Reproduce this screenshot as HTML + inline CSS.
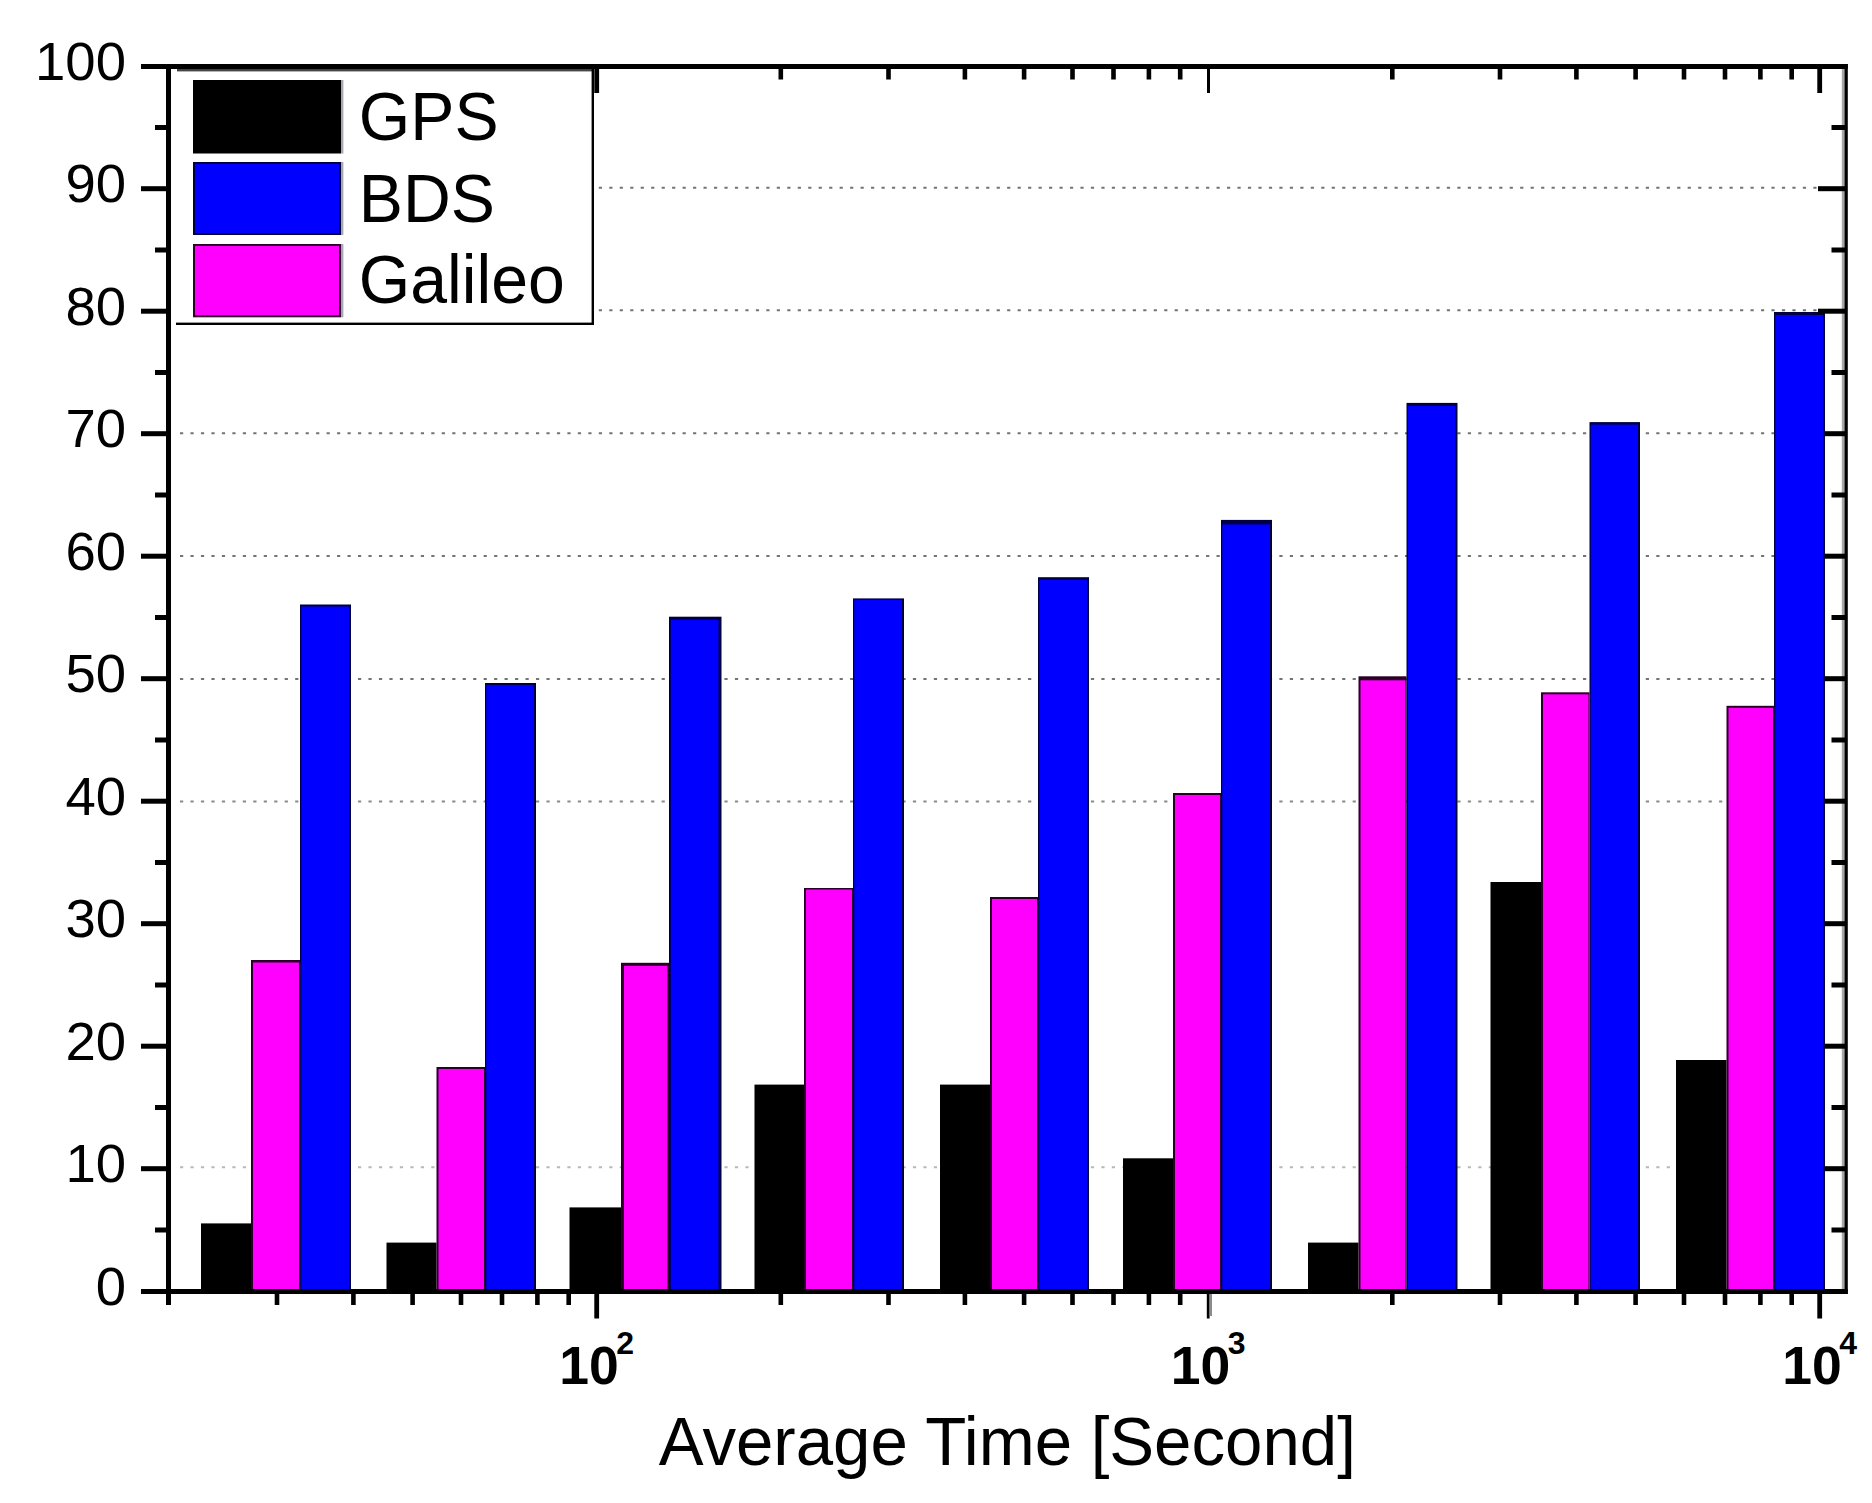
<!DOCTYPE html>
<html lang="en"><head><meta charset="utf-8"><title>Average Time Chart</title>
<style>html,body{margin:0;padding:0;background:#fff}body{width:1872px;height:1503px;overflow:hidden}svg{display:block}text{font-family:"Liberation Sans",Arial,sans-serif;fill:#000}</style></head><body>
<svg width="1872" height="1503" viewBox="0 0 1872 1503">
<rect width="1872" height="1503" fill="#fff"/>
<g stroke-width="2" stroke-dasharray="3.2 7.27" fill="none">
<line x1="180" y1="187.7" x2="1820" y2="187.7" stroke="#747474"/>
<line x1="180" y1="310.2" x2="1820" y2="310.2" stroke="#747474"/>
<line x1="180" y1="433.3" x2="1820" y2="433.3" stroke="#747474"/>
<line x1="180" y1="555.9" x2="1820" y2="555.9" stroke="#747474"/>
<line x1="180" y1="679.0" x2="1820" y2="679.0" stroke="#747474"/>
<line x1="180" y1="801.6" x2="1820" y2="801.6" stroke="#8a8a8a"/>
<line x1="180" y1="1167.2" x2="1820" y2="1167.2" stroke="#b8b8b8"/>
</g>
<rect x="201" y="1223.4" width="50" height="66.6" fill="#000"/>
<rect x="251" y="960.0" width="49" height="330.0" fill="#2a0028"/>
<rect x="253.0" y="962.5" width="46.0" height="327.5" fill="#ff00ff"/>
<rect x="300" y="604.5" width="51" height="685.5" fill="#000040"/>
<rect x="301.3" y="606.5" width="47.7" height="683.5" fill="#0000ff"/>
<rect x="386.5" y="1242.6" width="50.0" height="47.4" fill="#000"/>
<rect x="436.5" y="1067.0" width="48.5" height="223.0" fill="#2a0028"/>
<rect x="438.5" y="1069.0" width="45.5" height="221.0" fill="#ff00ff"/>
<rect x="485" y="683.0" width="51" height="607.0" fill="#000040"/>
<rect x="486.3" y="685.0" width="47.7" height="605.0" fill="#0000ff"/>
<rect x="569.5" y="1207.4" width="51.5" height="82.6" fill="#000"/>
<rect x="621" y="962.8" width="48" height="327.2" fill="#2a0028"/>
<rect x="624.0" y="965.8" width="43.5" height="324.2" fill="#ff00ff"/>
<rect x="669" y="616.7" width="52.5" height="673.3" fill="#000040"/>
<rect x="670.8" y="619.7" width="47.7" height="670.3" fill="#0000ff"/>
<rect x="754.5" y="1084.6" width="49.5" height="205.4" fill="#000"/>
<rect x="804" y="888.0" width="49" height="402.0" fill="#2a0028"/>
<rect x="806.0" y="889.5" width="46.0" height="400.5" fill="#ff00ff"/>
<rect x="853" y="598.4" width="51" height="691.6" fill="#000040"/>
<rect x="854.3" y="599.9" width="47.7" height="690.1" fill="#0000ff"/>
<rect x="940" y="1084.6" width="50" height="205.4" fill="#000"/>
<rect x="990" y="897.0" width="48" height="393.0" fill="#2a0028"/>
<rect x="992.0" y="899.0" width="45.0" height="391.0" fill="#ff00ff"/>
<rect x="1038" y="577.2" width="51" height="712.8" fill="#000040"/>
<rect x="1039.3" y="579.7" width="47.7" height="710.3" fill="#0000ff"/>
<rect x="1123" y="1158.3" width="50" height="131.7" fill="#000"/>
<rect x="1173" y="793.0" width="48" height="497.0" fill="#2a0028"/>
<rect x="1175.0" y="795.0" width="45.0" height="495.0" fill="#ff00ff"/>
<rect x="1221" y="519.9" width="51" height="770.1" fill="#000040"/>
<rect x="1222.3" y="524.4" width="47.7" height="765.6" fill="#0000ff"/>
<rect x="1308" y="1242.6" width="50.5" height="47.4" fill="#000"/>
<rect x="1358.5" y="676.3" width="48.0" height="613.7" fill="#2a0028"/>
<rect x="1360.5" y="680.3" width="45.0" height="609.7" fill="#ff00ff"/>
<rect x="1406.5" y="402.9" width="51.0" height="887.1" fill="#000040"/>
<rect x="1407.8" y="405.9" width="47.7" height="884.1" fill="#0000ff"/>
<rect x="1490.5" y="882.0" width="50.5" height="408.0" fill="#000"/>
<rect x="1541" y="692.3" width="48.5" height="597.7" fill="#2a0028"/>
<rect x="1543.0" y="694.3" width="45.5" height="595.7" fill="#ff00ff"/>
<rect x="1589.5" y="422.1" width="50.5" height="867.9" fill="#000040"/>
<rect x="1590.8" y="424.6" width="47.2" height="865.4" fill="#0000ff"/>
<rect x="1676" y="1060.0" width="50.5" height="230.0" fill="#000"/>
<rect x="1726.5" y="705.8" width="47.5" height="584.2" fill="#2a0028"/>
<rect x="1728.5" y="707.8" width="44.5" height="582.2" fill="#ff00ff"/>
<rect x="1774" y="312.0" width="51" height="978.0" fill="#000040"/>
<rect x="1775.3" y="315.0" width="47.7" height="975.0" fill="#0000ff"/>
<g fill="#000">
<rect x="141" y="64" width="1706.8" height="5"/>
<rect x="141" y="1289" width="1706.8" height="5"/>
<rect x="166" y="64" width="5" height="1241"/>
<rect x="1841.8" y="69" width="3.2" height="1220" fill="#a8a8a8"/>
<rect x="1844.6" y="64" width="3.2" height="1230"/>
<rect x="155" y="1227.5" width="11" height="5"/>
<rect x="1831.5" y="1227.5" width="14" height="5"/>
<rect x="141" y="1166.2" width="25" height="5"/>
<rect x="1825" y="1166.2" width="20.5" height="5"/>
<rect x="155" y="1105.0" width="11" height="5"/>
<rect x="1831.5" y="1105.0" width="14" height="5"/>
<rect x="141" y="1043.7" width="25" height="5"/>
<rect x="1825" y="1043.7" width="20.5" height="5"/>
<rect x="155" y="982.5" width="11" height="5"/>
<rect x="1831.5" y="982.5" width="14" height="5"/>
<rect x="141" y="921.2" width="25" height="5"/>
<rect x="1825" y="921.2" width="20.5" height="5"/>
<rect x="155" y="860.0" width="11" height="5"/>
<rect x="1831.5" y="860.0" width="14" height="5"/>
<rect x="141" y="798.7" width="25" height="5"/>
<rect x="1825" y="798.7" width="20.5" height="5"/>
<rect x="155" y="737.5" width="11" height="5"/>
<rect x="1831.5" y="737.5" width="14" height="5"/>
<rect x="141" y="676.2" width="25" height="5"/>
<rect x="1825" y="676.2" width="20.5" height="5"/>
<rect x="155" y="615.0" width="11" height="5"/>
<rect x="1831.5" y="615.0" width="14" height="5"/>
<rect x="141" y="553.7" width="25" height="5"/>
<rect x="1825" y="553.7" width="20.5" height="5"/>
<rect x="155" y="492.5" width="11" height="5"/>
<rect x="1831.5" y="492.5" width="14" height="5"/>
<rect x="141" y="431.2" width="25" height="5"/>
<rect x="1825" y="431.2" width="20.5" height="5"/>
<rect x="155" y="370.0" width="11" height="5"/>
<rect x="1831.5" y="370.0" width="14" height="5"/>
<rect x="141" y="308.7" width="25" height="5"/>
<rect x="1818" y="308.7" width="27.5" height="5"/>
<rect x="155" y="247.5" width="11" height="5"/>
<rect x="1831.5" y="247.5" width="14" height="5"/>
<rect x="141" y="186.2" width="25" height="5"/>
<rect x="1818" y="186.2" width="27.5" height="5"/>
<rect x="155" y="125.0" width="11" height="5"/>
<rect x="1831.5" y="125.0" width="14" height="5"/>
<rect x="274.7" y="1294" width="4.6" height="11"/>
<rect x="274.7" y="69" width="4.6" height="10.5"/>
<rect x="351.1" y="1294" width="4.6" height="11"/>
<rect x="351.1" y="69" width="4.6" height="10.5"/>
<rect x="410.3" y="1294" width="4.6" height="11"/>
<rect x="410.3" y="69" width="4.6" height="10.5"/>
<rect x="458.7" y="1294" width="4.6" height="11"/>
<rect x="458.7" y="69" width="4.6" height="10.5"/>
<rect x="499.7" y="1294" width="4.6" height="11"/>
<rect x="499.7" y="69" width="4.6" height="10.5"/>
<rect x="535.1" y="1294" width="4.6" height="11"/>
<rect x="535.1" y="69" width="4.6" height="10.5"/>
<rect x="566.4" y="1294" width="4.6" height="11"/>
<rect x="566.4" y="69" width="4.6" height="10.5"/>
<rect x="594.3" y="1294" width="4.8" height="24.5"/>
<rect x="594.3" y="69" width="4.8" height="24"/>
<rect x="778.5" y="1294" width="4.6" height="11"/>
<rect x="778.5" y="69" width="4.6" height="10.5"/>
<rect x="886.2" y="1294" width="4.6" height="11"/>
<rect x="886.2" y="69" width="4.6" height="10.5"/>
<rect x="962.6" y="1294" width="4.6" height="11"/>
<rect x="962.6" y="69" width="4.6" height="10.5"/>
<rect x="1021.8" y="1294" width="4.6" height="11"/>
<rect x="1021.8" y="69" width="4.6" height="10.5"/>
<rect x="1070.2" y="1294" width="4.6" height="11"/>
<rect x="1070.2" y="69" width="4.6" height="10.5"/>
<rect x="1111.2" y="1294" width="4.6" height="11"/>
<rect x="1111.2" y="69" width="4.6" height="10.5"/>
<rect x="1146.6" y="1294" width="4.6" height="11"/>
<rect x="1146.6" y="69" width="4.6" height="10.5"/>
<rect x="1177.9" y="1294" width="4.6" height="11"/>
<rect x="1177.9" y="69" width="4.6" height="10.5"/>
<rect x="1206.8" y="1294" width="2.8" height="24.5"/>
<rect x="1209.6" y="1294" width="2.4" height="22" fill="#8c8c8c"/>
<rect x="1207.0" y="69" width="3" height="24"/>
<rect x="1390.0" y="1294" width="4.6" height="11"/>
<rect x="1390.0" y="69" width="4.6" height="10.5"/>
<rect x="1497.7" y="1294" width="4.6" height="11"/>
<rect x="1497.7" y="69" width="4.6" height="10.5"/>
<rect x="1574.1" y="1294" width="4.6" height="11"/>
<rect x="1574.1" y="69" width="4.6" height="10.5"/>
<rect x="1633.3" y="1294" width="4.6" height="11"/>
<rect x="1633.3" y="69" width="4.6" height="10.5"/>
<rect x="1681.7" y="1294" width="4.6" height="11"/>
<rect x="1681.7" y="69" width="4.6" height="10.5"/>
<rect x="1722.7" y="1294" width="4.6" height="11"/>
<rect x="1722.7" y="69" width="4.6" height="10.5"/>
<rect x="1758.1" y="1294" width="4.6" height="11"/>
<rect x="1758.1" y="69" width="4.6" height="10.5"/>
<rect x="1789.4" y="1294" width="4.6" height="11"/>
<rect x="1789.4" y="69" width="4.6" height="10.5"/>
<rect x="1817.3" y="1294" width="4.8" height="24.5"/>
<rect x="1817.3" y="69" width="4.8" height="24"/>
</g>
<rect x="176" y="69" width="418" height="256" fill="#fff"/>
<rect x="177" y="69" width="417" height="2.4" fill="#444"/>
<rect x="591.6" y="69" width="2.4" height="256" fill="#000"/>
<rect x="176" y="322.6" width="418" height="2.4" fill="#000"/>
<rect x="341" y="80" width="2.4" height="73.5" fill="#a8a8b4"/>
<rect x="193" y="80" width="148" height="73.5" fill="#000"/>
<rect x="195" y="82" width="144" height="69.5" fill="#000"/>
<rect x="341" y="162" width="2.4" height="73" fill="#a8a8b4"/>
<rect x="193" y="162" width="148" height="73" fill="#00003a"/>
<rect x="195" y="164" width="144" height="69" fill="#0000ff"/>
<rect x="341" y="244" width="2.4" height="73.30000000000001" fill="#a8a8b4"/>
<rect x="193" y="244" width="148" height="73.30000000000001" fill="#30002c"/>
<rect x="195" y="246" width="144" height="69.30000000000001" fill="#ff00ff"/>
<text transform="translate(358.8,139.9) scale(0.973,1)" font-size="68">GPS</text>
<text transform="translate(358.8,221.6) scale(0.973,1)" font-size="68">BDS</text>
<text transform="translate(358.8,302.90000000000003) scale(0.973,1)" font-size="68">Galileo</text>
<text x="126" y="1304.7" font-size="54.5" text-anchor="end">0</text>
<text x="126" y="1182.2" font-size="54.5" text-anchor="end">10</text>
<text x="126" y="1059.7" font-size="54.5" text-anchor="end">20</text>
<text x="126" y="937.2" font-size="54.5" text-anchor="end">30</text>
<text x="126" y="814.7" font-size="54.5" text-anchor="end">40</text>
<text x="126" y="692.2" font-size="54.5" text-anchor="end">50</text>
<text x="126" y="569.7" font-size="54.5" text-anchor="end">60</text>
<text x="126" y="447.2" font-size="54.5" text-anchor="end">70</text>
<text x="126" y="324.7" font-size="54.5" text-anchor="end">80</text>
<text x="126" y="202.2" font-size="54.5" text-anchor="end">90</text>
<text x="126" y="79.7" font-size="54.5" text-anchor="end">100</text>
<text x="559.2" y="1384" font-size="53.5" font-weight="bold">10<tspan font-size="32" dx="-2.5" dy="-30.5">2</tspan></text>
<text x="1170.7" y="1384" font-size="53.5" font-weight="bold">10<tspan font-size="32" dx="-2.5" dy="-30.5">3</tspan></text>
<text x="1782.2" y="1384" font-size="53.5" font-weight="bold">10<tspan font-size="32" dx="-2.5" dy="-30.5">4</tspan></text>
<text transform="translate(1007.3,1465.2) scale(0.988,1)" font-size="68" text-anchor="middle">Average Time [Second]</text>
</svg></body></html>
